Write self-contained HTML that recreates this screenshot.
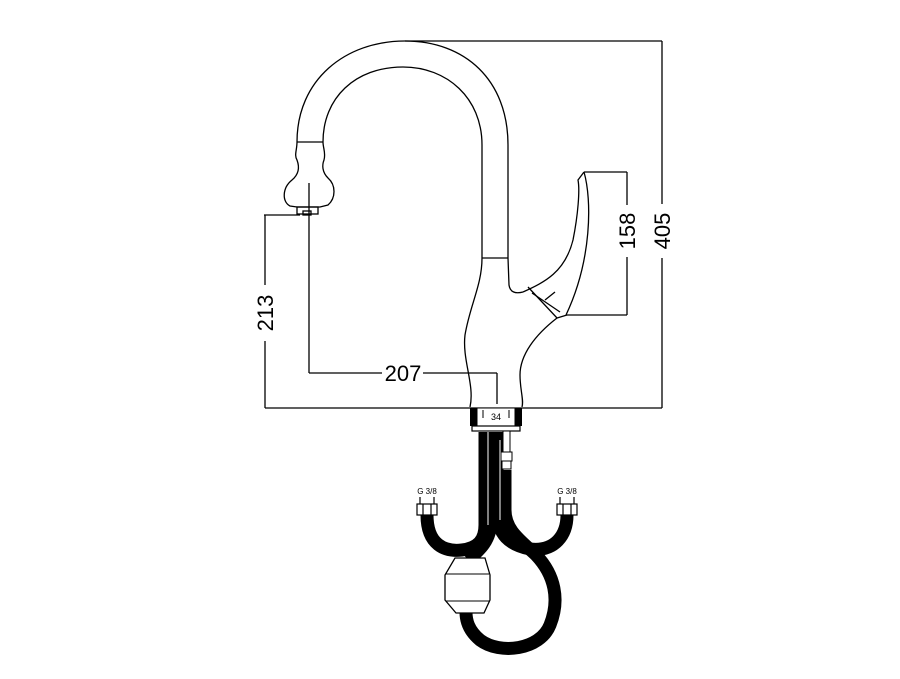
<!DOCTYPE html>
<html><head><meta charset="utf-8"><style>
html,body{margin:0;padding:0;background:#fff}
svg{display:block}
text{font-family:"Liberation Sans",sans-serif;fill:#000}
</style></head><body>
<svg width="900" height="679" viewBox="0 0 900 679" xmlns="http://www.w3.org/2000/svg">
<g fill="none" stroke="#000" stroke-width="1.3">
<!-- spout -->
<path d="M297,142 C297,80 345,41 405,41 C465,41 508,80 508,145 L508,258"/>
<path d="M323,142 C323,98 355,67 403,67 C447,67 482,98 482,145 L482,258"/>
<line x1="482" y1="258" x2="508" y2="258"/>
<!-- head -->
<path d="M297,142 L323,142"/>
<path d="M297,142 C297,150 294,155 297,160 C300,168 298,175 292,180 C282,188 282,202 290,206 L297,207 L320,207 L328,205 C336,198 336,185 328,178 C322,172 322,165 324,160 C326,153 323,148 323,142"/>
<rect x="297" y="207" width="21" height="7"/>
<rect x="303" y="211" width="8" height="4"/>
<!-- body -->
<path d="M482,258 C482,285 470,305 465,335 C462,360 475,385 470,407"/>
<path d="M508,258 L509,285 C510,292 515,294 523,292"/>
<path d="M557,318 C535,335 520,355 520,375 C520,390 524,400 522,407"/>
<!-- handle -->
<path d="M523,292 C545,282 565,272 573,240 C578,215 580,190 578,180 L584,172"/>
<path d="M584,172 C592,200 592,260 566,315"/>
<path d="M528,287 L557,318 L567,315"/>
<path d="M532,293 L560,312"/>
<line x1="545" y1="300" x2="555" y2="292"/>
<!-- dimension lines -->
<line x1="405" y1="41" x2="662" y2="41"/>
<line x1="662" y1="41" x2="662" y2="204"/>
<line x1="662" y1="258" x2="662" y2="408"/>
<line x1="584" y1="172" x2="627" y2="172"/>
<line x1="627" y1="172" x2="627" y2="205"/>
<line x1="627" y1="257" x2="627" y2="315"/>
<line x1="567" y1="315" x2="627" y2="315"/>
<line x1="264" y1="215" x2="300" y2="215"/>
<line x1="265" y1="215" x2="265" y2="285"/>
<line x1="265" y1="341" x2="265" y2="408"/>
<line x1="265" y1="408" x2="662" y2="408"/>
<line x1="309" y1="183" x2="309" y2="373"/>
<line x1="309" y1="373" x2="382" y2="373"/>
<line x1="423" y1="373" x2="497" y2="373"/>
<line x1="497" y1="373" x2="497" y2="404"/>
</g>
<text x="403" y="381" font-size="22" text-anchor="middle">207</text>
<text transform="translate(273,313) rotate(-90)" font-size="22" text-anchor="middle">213</text>
<text transform="translate(635,231) rotate(-90)" font-size="22" text-anchor="middle">158</text>
<text transform="translate(670,231) rotate(-90)" font-size="22" text-anchor="middle">405</text>
<!-- base -->
<rect x="470" y="408" width="52" height="18" fill="#000"/>
<rect x="477" y="408" width="38" height="18" fill="#fff" stroke="#000" stroke-width="1"/>
<line x1="483" y1="410" x2="483" y2="418" stroke="#000"/>
<line x1="509" y1="410" x2="509" y2="418" stroke="#000"/>
<rect x="472" y="426" width="48" height="5" fill="#fff" stroke="#000" stroke-width="1.2"/>
<text x="496" y="420" font-size="9" text-anchor="middle">34</text>
<!-- hoses -->
<g fill="none" stroke="#000" stroke-linecap="butt">
<path d="M427,515 C427,545 445,552 462,550 C478,548 485,540 485,525 L485,432" stroke-width="13"/>
<path d="M491,432 L491,520 C491,540 480,550 468,560" stroke-width="13"/>
<path d="M497,432 L497,510 C497,535 510,545 530,549 C555,552 567,535 567,515" stroke-width="13"/>
<path d="M505,470 L505,510 C505,530 520,540 536,555 C555,575 560,600 550,625 C540,650 500,655 480,640 C468,630 466,620 466,612" stroke-width="13"/>
</g>
<line x1="488" y1="432" x2="488" y2="525" stroke="#fff" stroke-width="1"/>
<line x1="500" y1="440" x2="500" y2="520" stroke="#fff" stroke-width="1"/>
<!-- pullout pipe -->
<rect x="503" y="431" width="7" height="22" fill="#fff" stroke="#000"/>
<rect x="501" y="452" width="11" height="9" fill="#fff" stroke="#000"/>
<rect x="502" y="461" width="9" height="8" fill="#fff" stroke="#000"/>
<!-- weight -->
<path d="M455,558 L485,558 L490,575 L490,600 L484,613 L456,613 L445,600 L445,575 Z" fill="#fff" stroke="#000" stroke-width="1.3"/>
<line x1="446" y1="574" x2="489" y2="574" stroke="#000"/>
<line x1="446" y1="601" x2="489" y2="601" stroke="#000"/>
<!-- nuts -->
<g fill="#fff" stroke="#000" stroke-width="1.2">
<rect x="417" y="504" width="20" height="11"/>
<line x1="423" y1="504" x2="423" y2="515"/><line x1="431" y1="504" x2="431" y2="515"/>
<rect x="557" y="504" width="20" height="11"/>
<line x1="563" y1="504" x2="563" y2="515"/><line x1="571" y1="504" x2="571" y2="515"/>
<line x1="420" y1="497" x2="420" y2="504"/><line x1="434" y1="497" x2="434" y2="504"/>
<line x1="560" y1="497" x2="560" y2="504"/><line x1="574" y1="497" x2="574" y2="504"/>
</g>
<text x="427" y="494" font-size="8" text-anchor="middle">G 3/8</text>
<text x="567" y="494" font-size="8" text-anchor="middle">G 3/8</text>
</svg>
</body></html>
